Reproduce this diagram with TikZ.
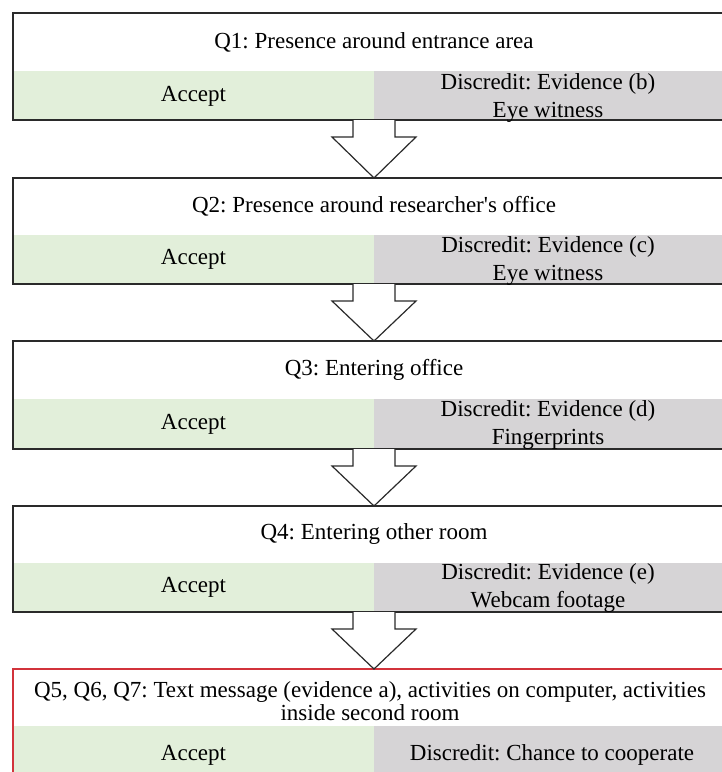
\documentclass[tikz,border=0pt]{standalone}
\usepackage{fontspec}
\setmainfont{Liberation Serif}
\usetikzlibrary{calc}
\definecolor{acceptc}{HTML}{E2EFDA}
\definecolor{discc}{HTML}{D6D4D6}
\definecolor{linec}{HTML}{2A2A2A}
\definecolor{redc}{HTML}{D2333B}
\frenchspacing
\begin{document}
\begin{tikzpicture}[x=1pt,y=-1pt,
  every node/.style={inner sep=0pt,outer sep=0pt,font=\fontsize{23}{28}\selectfont},
  frame/.style={draw=linec,line width=1.3pt,anchor=north west,minimum width=740pt},
  acceptcell/.style={fill=acceptc,anchor=north west,minimum width=361pt},
  disccell/.style={fill=discc,anchor=north west,minimum width=370pt},
  txt/.style={align=center},
  blockarrow/.style={draw=linec,line width=1.2pt,fill=white,line join=miter}
]
\useasboundingbox (0,0) rectangle (722,772);
% box 1
\node[acceptcell,minimum height=50pt] (a1) at (13,71) {};
\node[disccell,minimum height=50pt] (d1) at (374,71) {};
\node[frame,minimum height=107pt] (b1) at (13,13) {};
\node[txt] (t1) at (374,42) {Q1: Presence around entrance area};
\node[txt] (at1) at (a1.center) {Accept};
\node[txt] (dt1) at (548,98) {Discredit: Evidence (b)\\Eye witness};
% box 2
\node[acceptcell,minimum height=49pt] (a2) at (13,235) {};
\node[disccell,minimum height=49pt] (d2) at (374,235) {};
\node[frame,minimum height=106pt] (b2) at (13,178) {};
\node[txt] (t2) at (374,206) {Q2: Presence around researcher\textquotesingle s office};
\node[txt] (at2) at (a2.center) {Accept};
\node[txt] (dt2) at (548,261) {Discredit: Evidence (c)\\Eye witness};
% box 3
\node[acceptcell,minimum height=50pt] (a3) at (13,399) {};
\node[disccell,minimum height=50pt] (d3) at (374,399) {};
\node[frame,minimum height=108pt] (b3) at (13,341) {};
\node[txt] (t3) at (374,370) {Q3: Entering office};
\node[txt] (at3) at (a3.center) {Accept};
\node[txt] (dt3) at (548,425) {Discredit: Evidence (d)\\Fingerprints};
% box 4
\node[acceptcell,minimum height=49pt] (a4) at (13,563) {};
\node[disccell,minimum height=49pt] (d4) at (374,563) {};
\node[frame,minimum height=106pt] (b4) at (13,506) {};
\node[txt] (t4) at (374,534) {Q4: Entering other room};
\node[txt] (at4) at (a4.center) {Accept};
\node[txt] (dt4) at (548,588) {Discredit: Evidence (e)\\Webcam footage};
% box 5
\node[acceptcell,minimum height=64pt] (a5) at (13,726) {};
\node[disccell,minimum height=64pt] (d5) at (374,726) {};
\node[frame,draw=redc,minimum height=121pt] (b5) at (13,669) {};
\node[txt,font=\fontsize{23}{23}\selectfont] (t5) at (370,701) {Q5, Q6, Q7: Text message (evidence a), activities on computer, activities\\inside second room};
\node[txt] (at5) at (193.5,755) {Accept};
\node[txt] (dt5) at (552,755) {Discredit: Chance to cooperate};
% block arrows
\foreach \u/\v in {b1/b2,b2/b3,b3/b4,b4/b5}{
  \coordinate (s) at ($(\u.south west)+(361,0)$);
  \coordinate (e) at ($(\v.north west)+(361,0)$);
  \draw[blockarrow] ($(s)+(-21,0)$) -- ($(s)+(-21,17)$) -- ($(s)+(-42,17)$) -- (e)
    -- ($(s)+(42,17)$) -- ($(s)+(21,17)$) -- ($(s)+(21,0)$);
}
\end{tikzpicture}
\end{document}
